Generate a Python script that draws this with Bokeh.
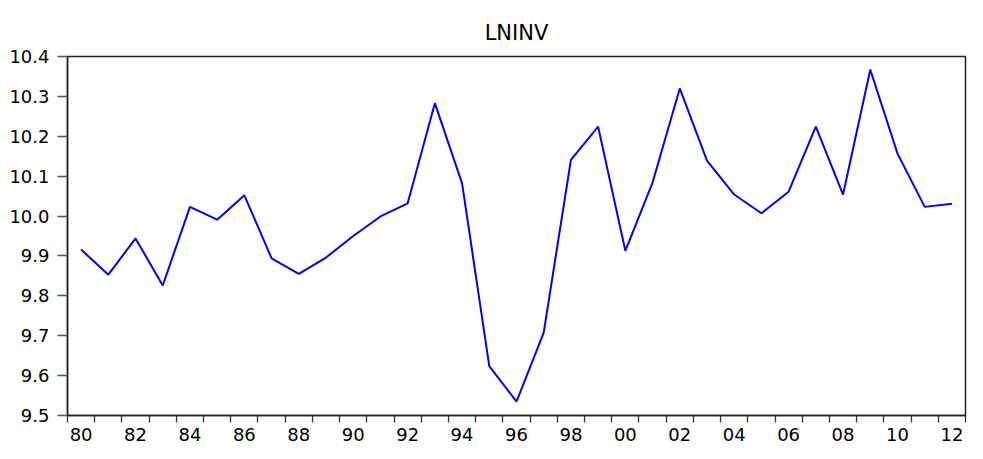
from bokeh.plotting import figure
from bokeh.models import FixedTicker, Range1d
from bokeh.embed import file_html
from bokeh.resources import INLINE

years = list(range(1980, 2013))
lninv = [9.916, 9.853, 9.944, 9.826, 10.023, 9.991, 10.052, 9.894, 9.855, 9.896,
         9.950, 9.999, 10.032, 10.283, 10.082, 9.624, 9.535, 9.708, 10.141, 10.224,
         9.913, 10.084, 10.320, 10.139, 10.054, 10.007, 10.061, 10.224, 10.054, 10.367,
         10.157, 10.023, 10.031]
label_years = list(range(1980, 2013, 2))
label_texts = ["80", "82", "84", "86", "88", "90", "92", "94", "96", "98",
               "00", "02", "04", "06", "08", "10", "12"]
y_ticks = [9.5, 9.6, 9.7, 9.8, 9.9, 10.0, 10.1, 10.2, 10.3, 10.4]

FONT = "DejaVu Sans"

p = figure(width=967, height=443, output_backend="svg", toolbar_location=None,
           title="LNINV",
           x_range=Range1d(years[0] - 0.5, years[-1] + 0.5),
           y_range=Range1d(y_ticks[0], y_ticks[-1]),
           min_border_left=67, min_border_right=2, min_border_top=56, min_border_bottom=20)

p.line(years, lninv, line_color="#0000ff", line_width=2)

p.title.align = "center"
p.title.text_font = FONT
p.title.text_font_size = "21px"
p.title.text_font_style = "normal"
p.title.text_color = "#000000"
p.title.standoff = 24

p.outline_line_color = "#222222"
p.outline_line_width = 1.5
p.outline_line_alpha = 1.0
p.xgrid.visible = False
p.ygrid.visible = False

xa = p.xaxis[0]
xa.ticker = FixedTicker(ticks=label_years, minor_ticks=[y - 0.5 for y in years] + [years[-1] + 0.5])
xa.major_label_overrides = {y: t for y, t in zip(label_years, label_texts)}
xa.major_tick_in = 0
xa.major_tick_out = 0
xa.minor_tick_in = 0
xa.minor_tick_out = 7
xa.minor_tick_line_color = "#333333"
xa.minor_tick_line_width = 1.3
xa.axis_line_color = "#222222"
xa.axis_line_width = 1.5
xa.major_label_standoff = 5
xa.major_label_text_font = FONT
xa.major_label_text_font_size = "18px"
xa.major_label_text_color = "#000000"

ya = p.yaxis[0]
ya.ticker = FixedTicker(ticks=y_ticks, minor_ticks=[])
ya.major_label_overrides = {v: f"{v:.1f}" for v in y_ticks}
ya.major_tick_in = 0
ya.major_tick_out = 10
ya.major_tick_line_color = "#555555"
ya.major_tick_line_width = 1.3
ya.axis_line_color = "#222222"
ya.axis_line_width = 1.5
ya.major_label_standoff = 8
ya.major_label_text_font = FONT
ya.major_label_text_font_size = "18px"
ya.major_label_text_color = "#000000"

open("out.html", "w").write(file_html(p, INLINE))
